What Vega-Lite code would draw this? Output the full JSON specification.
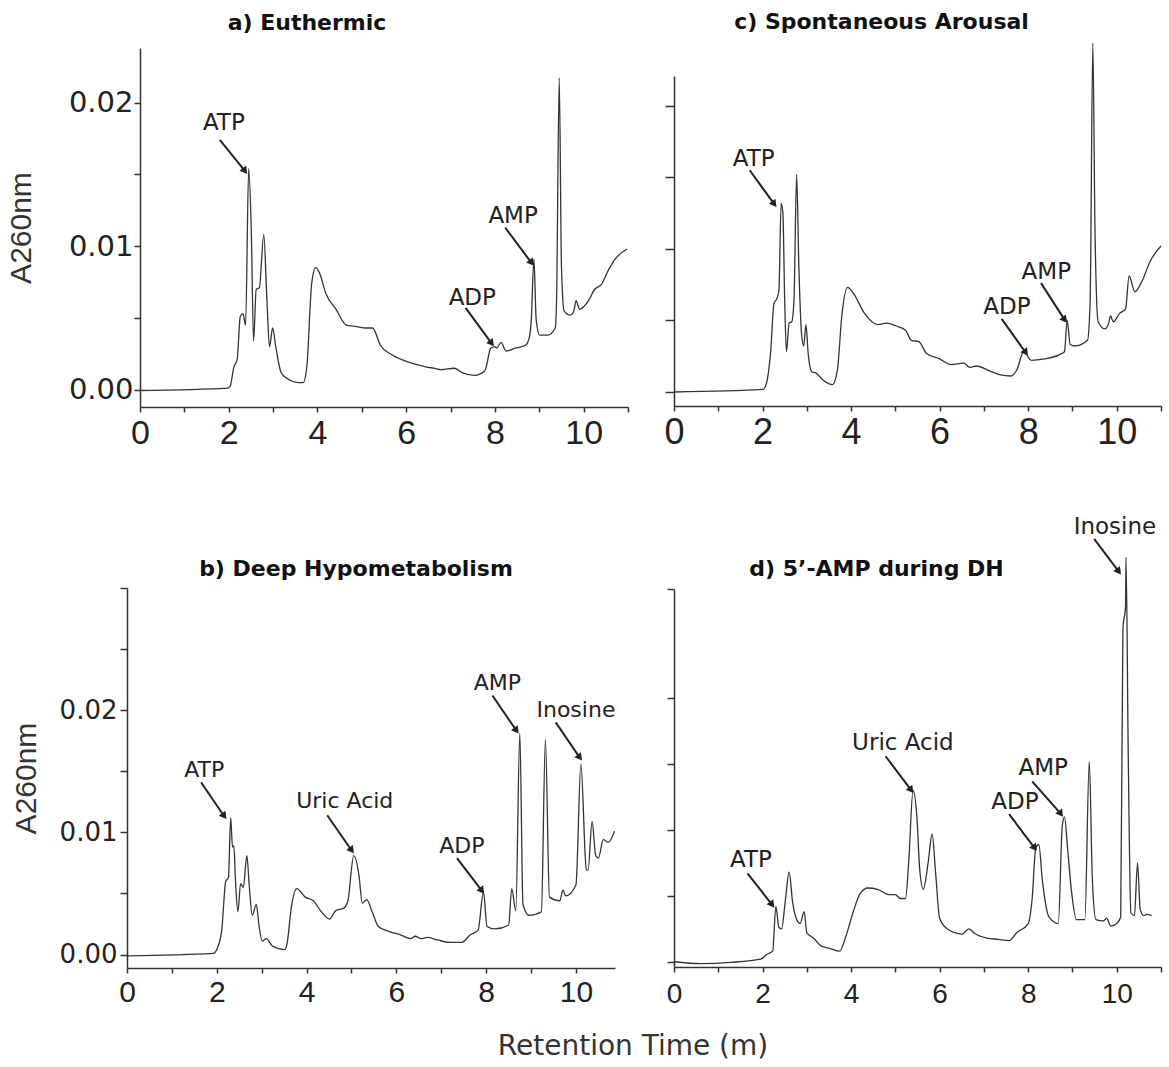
{
"$schema": "https://vega.github.io/schema/vega-lite/v6.json",
"background": "white",
"padding": {"left": 6, "top": 10, "right": 0, "bottom": 0},
"title": {"text": "Retention Time (m)", "orient": "bottom", "anchor": "middle", "dx": 48, "offset": 25, "font": "DejaVu Sans", "fontSize": 28, "fontWeight": "normal", "color": "#333"},
"config": {"view": {"stroke": null}, "line": {"interpolate": "monotone"}, "axis": {"grid": false, "domainColor": "#333", "tickColor": "#333", "labelColor": "#222", "titleColor": "#333", "domainWidth": 1.5, "tickWidth": 1.5, "labelOverlap": false, "labelFlush": false, "labelBound": false}},
"datasets": {
"trace": [
{"panel":"a","time":0,"absorbance":-0.00005},{"panel":"a","time":1.98,"absorbance":0.00012},{"panel":"a","time":2.03,"absorbance":0.00023},{"panel":"a","time":2.12,"absorbance":0.00163},{"panel":"a","time":2.19,"absorbance":0.0021},{"panel":"a","time":2.26,"absorbance":0.0051},{"panel":"a","time":2.32,"absorbance":0.0053},{"panel":"a","time":2.38,"absorbance":0.0045},{"panel":"a","time":2.45,"absorbance":0.0154},{"panel":"a","time":2.51,"absorbance":0.0109},{"panel":"a","time":2.56,"absorbance":0.0034},{"panel":"a","time":2.62,"absorbance":0.007},{"panel":"a","time":2.69,"absorbance":0.0071},{"panel":"a","time":2.79,"absorbance":0.0108},{"panel":"a","time":2.86,"absorbance":0.0063},{"panel":"a","time":2.92,"absorbance":0.003},{"panel":"a","time":2.99,"absorbance":0.0043},{"panel":"a","time":3.06,"absorbance":0.003},{"panel":"a","time":3.18,"absorbance":0.0012},{"panel":"a","time":3.31,"absorbance":0.0008},{"panel":"a","time":3.59,"absorbance":0.0005},{"panel":"a","time":3.68,"absorbance":0.0005},{"panel":"a","time":3.76,"absorbance":0.0016},{"panel":"a","time":3.87,"absorbance":0.0074},{"panel":"a","time":3.96,"absorbance":0.0085},{"panel":"a","time":4.05,"absorbance":0.0081},{"panel":"a","time":4.19,"absorbance":0.0067},{"panel":"a","time":4.42,"absorbance":0.0056},{"panel":"a","time":4.65,"absorbance":0.0045},{"panel":"a","time":4.88,"absorbance":0.0044},{"panel":"a","time":5.06,"absorbance":0.0043},{"panel":"a","time":5.24,"absorbance":0.0043},{"panel":"a","time":5.42,"absorbance":0.0031},{"panel":"a","time":5.7,"absorbance":0.0024},{"panel":"a","time":6.07,"absorbance":0.0019},{"panel":"a","time":6.44,"absorbance":0.0016},{"panel":"a","time":6.62,"absorbance":0.0015},{"panel":"a","time":6.8,"absorbance":0.0014},{"panel":"a","time":7.08,"absorbance":0.0015},{"panel":"a","time":7.26,"absorbance":0.0012},{"panel":"a","time":7.54,"absorbance":0.001},{"panel":"a","time":7.77,"absorbance":0.0013},{"panel":"a","time":7.91,"absorbance":0.0029},{"panel":"a","time":8.0,"absorbance":0.003},{"panel":"a","time":8.04,"absorbance":0.0029},{"panel":"a","time":8.14,"absorbance":0.0033},{"panel":"a","time":8.25,"absorbance":0.0027},{"panel":"a","time":8.46,"absorbance":0.0029},{"panel":"a","time":8.69,"absorbance":0.0031},{"panel":"a","time":8.78,"absorbance":0.0037},{"panel":"a","time":8.82,"absorbance":0.0049},{"panel":"a","time":8.88,"absorbance":0.0091},{"panel":"a","time":8.93,"absorbance":0.0049},{"panel":"a","time":9.01,"absorbance":0.0038},{"panel":"a","time":9.19,"absorbance":0.0038},{"panel":"a","time":9.36,"absorbance":0.0043},{"panel":"a","time":9.39,"absorbance":0.0063},{"panel":"a","time":9.45,"absorbance":0.0217},{"panel":"a","time":9.5,"absorbance":0.0086},{"panel":"a","time":9.56,"absorbance":0.0055},{"panel":"a","time":9.7,"absorbance":0.0052},{"panel":"a","time":9.78,"absorbance":0.0055},{"panel":"a","time":9.83,"absorbance":0.0062},{"panel":"a","time":9.91,"absorbance":0.0056},{"panel":"a","time":10.11,"absorbance":0.0062},{"panel":"a","time":10.25,"absorbance":0.007},{"panel":"a","time":10.39,"absorbance":0.0073},{"panel":"a","time":10.57,"absorbance":0.0084},{"panel":"a","time":10.71,"absorbance":0.0091},{"panel":"a","time":10.98,"absorbance":0.0098},
{"panel":"c","time":0,"absorbance":-0.00002},{"panel":"c","time":2.01,"absorbance":0.00016},{"panel":"c","time":2.09,"absorbance":0.0006},{"panel":"c","time":2.18,"absorbance":0.0027},{"panel":"c","time":2.26,"absorbance":0.0062},{"panel":"c","time":2.32,"absorbance":0.0065},{"panel":"c","time":2.37,"absorbance":0.0071},{"panel":"c","time":2.42,"absorbance":0.0132},{"panel":"c","time":2.46,"absorbance":0.0125},{"panel":"c","time":2.5,"absorbance":0.0064},{"panel":"c","time":2.54,"absorbance":0.0028},{"panel":"c","time":2.6,"absorbance":0.0048},{"panel":"c","time":2.66,"absorbance":0.0049},{"panel":"c","time":2.71,"absorbance":0.0064},{"panel":"c","time":2.77,"absorbance":0.0152},{"panel":"c","time":2.82,"absorbance":0.0088},{"panel":"c","time":2.88,"absorbance":0.0041},{"panel":"c","time":2.93,"absorbance":0.0032},{"panel":"c","time":2.98,"absorbance":0.0047},{"panel":"c","time":3.03,"absorbance":0.0027},{"panel":"c","time":3.11,"absorbance":0.0014},{"panel":"c","time":3.21,"absorbance":0.0013},{"panel":"c","time":3.37,"absorbance":0.0008},{"panel":"c","time":3.58,"absorbance":0.0005},{"panel":"c","time":3.69,"absorbance":0.0015},{"panel":"c","time":3.79,"absorbance":0.0053},{"panel":"c","time":3.92,"absorbance":0.0073},{"panel":"c","time":4.05,"absorbance":0.0069},{"panel":"c","time":4.3,"absorbance":0.0055},{"panel":"c","time":4.6,"absorbance":0.0047},{"panel":"c","time":4.81,"absorbance":0.0048},{"panel":"c","time":5.02,"absorbance":0.0046},{"panel":"c","time":5.23,"absorbance":0.0043},{"panel":"c","time":5.36,"absorbance":0.0036},{"panel":"c","time":5.53,"absorbance":0.0035},{"panel":"c","time":5.7,"absorbance":0.0027},{"panel":"c","time":6.0,"absorbance":0.0023},{"panel":"c","time":6.25,"absorbance":0.0019},{"panel":"c","time":6.55,"absorbance":0.002},{"panel":"c","time":6.68,"absorbance":0.0017},{"panel":"c","time":6.84,"absorbance":0.0018},{"panel":"c","time":7.1,"absorbance":0.0015},{"panel":"c","time":7.35,"absorbance":0.0012},{"panel":"c","time":7.61,"absorbance":0.0011},{"panel":"c","time":7.74,"absorbance":0.0015},{"panel":"c","time":7.9,"absorbance":0.0028},{"panel":"c","time":8.07,"absorbance":0.0022},{"panel":"c","time":8.37,"absorbance":0.0023},{"panel":"c","time":8.71,"absorbance":0.0026},{"panel":"c","time":8.82,"absorbance":0.0028},{"panel":"c","time":8.88,"absorbance":0.005},{"panel":"c","time":8.95,"absorbance":0.0033},{"panel":"c","time":9.05,"absorbance":0.0032},{"panel":"c","time":9.34,"absorbance":0.0036},{"panel":"c","time":9.4,"absorbance":0.0064},{"panel":"c","time":9.46,"absorbance":0.0244},{"panel":"c","time":9.51,"absorbance":0.0111},{"panel":"c","time":9.58,"absorbance":0.0049},{"panel":"c","time":9.73,"absorbance":0.0044},{"panel":"c","time":9.81,"absorbance":0.0047},{"panel":"c","time":9.86,"absorbance":0.0053},{"panel":"c","time":9.92,"absorbance":0.0049},{"panel":"c","time":10.07,"absorbance":0.0055},{"panel":"c","time":10.2,"absorbance":0.0058},{"panel":"c","time":10.28,"absorbance":0.0081},{"panel":"c","time":10.41,"absorbance":0.007},{"panel":"c","time":10.58,"absorbance":0.0078},{"panel":"c","time":10.75,"absorbance":0.0091},{"panel":"c","time":11.0,"absorbance":0.0102},
{"panel":"b","time":0,"absorbance":-0.0001},{"panel":"b","time":1.92,"absorbance":0.0001},{"panel":"b","time":2.01,"absorbance":0.0005},{"panel":"b","time":2.11,"absorbance":0.002},{"panel":"b","time":2.2,"absorbance":0.006},{"panel":"b","time":2.26,"absorbance":0.0063},{"panel":"b","time":2.31,"absorbance":0.0112},{"panel":"b","time":2.35,"absorbance":0.0088},{"panel":"b","time":2.38,"absorbance":0.0089},{"panel":"b","time":2.42,"absorbance":0.0058},{"panel":"b","time":2.47,"absorbance":0.0035},{"panel":"b","time":2.53,"absorbance":0.0058},{"panel":"b","time":2.59,"absorbance":0.0055},{"panel":"b","time":2.67,"absorbance":0.0081},{"panel":"b","time":2.72,"absorbance":0.0058},{"panel":"b","time":2.79,"absorbance":0.0032},{"panel":"b","time":2.88,"absorbance":0.0041},{"panel":"b","time":2.94,"absorbance":0.0024},{"panel":"b","time":3.01,"absorbance":0.0011},{"panel":"b","time":3.1,"absorbance":0.0013},{"panel":"b","time":3.24,"absorbance":0.0007},{"panel":"b","time":3.51,"absorbance":0.0004},{"panel":"b","time":3.56,"absorbance":0.0008},{"panel":"b","time":3.67,"absorbance":0.0041},{"panel":"b","time":3.78,"absorbance":0.0054},{"panel":"b","time":3.97,"absorbance":0.0047},{"panel":"b","time":4.15,"absorbance":0.0044},{"panel":"b","time":4.33,"absorbance":0.0035},{"panel":"b","time":4.51,"absorbance":0.0029},{"panel":"b","time":4.65,"absorbance":0.0036},{"panel":"b","time":4.83,"absorbance":0.0038},{"panel":"b","time":4.92,"absorbance":0.0044},{"panel":"b","time":5.05,"absorbance":0.0081},{"panel":"b","time":5.17,"absorbance":0.0064},{"panel":"b","time":5.24,"absorbance":0.0042},{"panel":"b","time":5.34,"absorbance":0.0045},{"panel":"b","time":5.46,"absorbance":0.0035},{"panel":"b","time":5.6,"absorbance":0.0023},{"panel":"b","time":5.83,"absorbance":0.0019},{"panel":"b","time":6.1,"absorbance":0.0016},{"panel":"b","time":6.32,"absorbance":0.0013},{"panel":"b","time":6.42,"absorbance":0.0015},{"panel":"b","time":6.55,"absorbance":0.0013},{"panel":"b","time":6.69,"absorbance":0.0014},{"panel":"b","time":6.91,"absorbance":0.0012},{"panel":"b","time":7.19,"absorbance":0.001},{"panel":"b","time":7.46,"absorbance":0.001},{"panel":"b","time":7.64,"absorbance":0.0016},{"panel":"b","time":7.82,"absorbance":0.002},{"panel":"b","time":7.94,"absorbance":0.0051},{"panel":"b","time":8.02,"absorbance":0.0023},{"panel":"b","time":8.19,"absorbance":0.0021},{"panel":"b","time":8.5,"absorbance":0.0024},{"panel":"b","time":8.57,"absorbance":0.0054},{"panel":"b","time":8.66,"absorbance":0.0036},{"panel":"b","time":8.75,"absorbance":0.0181},{"panel":"b","time":8.82,"absorbance":0.0041},{"panel":"b","time":8.96,"absorbance":0.0032},{"panel":"b","time":9.23,"absorbance":0.0035},{"panel":"b","time":9.32,"absorbance":0.0176},{"panel":"b","time":9.41,"absorbance":0.0047},{"panel":"b","time":9.64,"absorbance":0.0044},{"panel":"b","time":9.71,"absorbance":0.0053},{"panel":"b","time":9.77,"absorbance":0.0048},{"panel":"b","time":10.0,"absorbance":0.0057},{"panel":"b","time":10.11,"absorbance":0.0156},{"panel":"b","time":10.23,"absorbance":0.007},{"panel":"b","time":10.27,"absorbance":0.0069},{"panel":"b","time":10.36,"absorbance":0.0109},{"panel":"b","time":10.44,"absorbance":0.0081},{"panel":"b","time":10.5,"absorbance":0.0079},{"panel":"b","time":10.61,"absorbance":0.0094},{"panel":"b","time":10.72,"absorbance":0.0092},{"panel":"b","time":10.86,"absorbance":0.0101},
{"panel":"d","time":0,"absorbance":0},{"panel":"d","time":0.6,"absorbance":-0.00014},{"panel":"d","time":1.28,"absorbance":-0.00005},{"panel":"d","time":1.96,"absorbance":0.00019},{"panel":"d","time":2.09,"absorbance":0.00055},{"panel":"d","time":2.23,"absorbance":0.00082},{"panel":"d","time":2.3,"absorbance":0.0042},{"panel":"d","time":2.37,"absorbance":0.0026},{"panel":"d","time":2.43,"absorbance":0.0025},{"panel":"d","time":2.51,"absorbance":0.0045},{"panel":"d","time":2.6,"absorbance":0.0068},{"panel":"d","time":2.68,"absorbance":0.0045},{"panel":"d","time":2.77,"absorbance":0.0032},{"panel":"d","time":2.85,"absorbance":0.0029},{"panel":"d","time":2.94,"absorbance":0.0038},{"panel":"d","time":3.0,"absorbance":0.0022},{"panel":"d","time":3.15,"absorbance":0.0018},{"panel":"d","time":3.32,"absorbance":0.0012},{"panel":"d","time":3.53,"absorbance":0.001},{"panel":"d","time":3.74,"absorbance":0.0008},{"panel":"d","time":3.87,"absorbance":0.0018},{"panel":"d","time":4.04,"absorbance":0.0037},{"panel":"d","time":4.21,"absorbance":0.0052},{"panel":"d","time":4.38,"absorbance":0.0056},{"panel":"d","time":4.6,"absorbance":0.0055},{"panel":"d","time":4.85,"absorbance":0.0051},{"panel":"d","time":5.0,"absorbance":0.0051},{"panel":"d","time":5.11,"absorbance":0.0048},{"panel":"d","time":5.23,"absorbance":0.0048},{"panel":"d","time":5.3,"absorbance":0.0075},{"panel":"d","time":5.4,"absorbance":0.013},{"panel":"d","time":5.49,"absorbance":0.0108},{"panel":"d","time":5.55,"absorbance":0.007},{"panel":"d","time":5.63,"absorbance":0.0055},{"panel":"d","time":5.74,"absorbance":0.0075},{"panel":"d","time":5.83,"absorbance":0.0097},{"panel":"d","time":5.91,"absorbance":0.0067},{"panel":"d","time":6.0,"absorbance":0.0033},{"panel":"d","time":6.17,"absorbance":0.0025},{"panel":"d","time":6.51,"absorbance":0.0021},{"panel":"d","time":6.66,"absorbance":0.0025},{"panel":"d","time":6.81,"absorbance":0.0021},{"panel":"d","time":7.06,"absorbance":0.0018},{"panel":"d","time":7.32,"absorbance":0.0017},{"panel":"d","time":7.57,"absorbance":0.0016},{"panel":"d","time":7.74,"absorbance":0.0022},{"panel":"d","time":8.0,"absorbance":0.0029},{"panel":"d","time":8.09,"absorbance":0.0048},{"panel":"d","time":8.17,"absorbance":0.0086},{"panel":"d","time":8.24,"absorbance":0.0089},{"panel":"d","time":8.32,"absorbance":0.0062},{"panel":"d","time":8.47,"absorbance":0.0034},{"panel":"d","time":8.68,"absorbance":0.0029},{"panel":"d","time":8.77,"absorbance":0.0103},{"panel":"d","time":8.82,"absorbance":0.011},{"panel":"d","time":8.89,"absorbance":0.0086},{"panel":"d","time":8.98,"absorbance":0.0053},{"panel":"d","time":9.09,"absorbance":0.0032},{"panel":"d","time":9.28,"absorbance":0.0032},{"panel":"d","time":9.38,"absorbance":0.0152},{"panel":"d","time":9.45,"absorbance":0.0062},{"panel":"d","time":9.53,"absorbance":0.0032},{"panel":"d","time":9.7,"absorbance":0.0031},{"panel":"d","time":9.77,"absorbance":0.0033},{"panel":"d","time":9.87,"absorbance":0.0027},{"panel":"d","time":10.0,"absorbance":0.0029},{"panel":"d","time":10.09,"absorbance":0.0034},{"panel":"d","time":10.14,"absorbance":0.0253},{"panel":"d","time":10.2,"absorbance":0.027},{"panel":"d","time":10.21,"absorbance":0.0307},{"panel":"d","time":10.26,"absorbance":0.0158},{"panel":"d","time":10.32,"absorbance":0.0037},{"panel":"d","time":10.4,"absorbance":0.0035},{"panel":"d","time":10.47,"absorbance":0.0075},{"panel":"d","time":10.53,"absorbance":0.004},{"panel":"d","time":10.61,"absorbance":0.0035},{"panel":"d","time":10.68,"absorbance":0.0036},{"panel":"d","time":10.79,"absorbance":0.0035}
],
"notes": [
{"panel":"a","label":"ATP","lx":1.89,"ly":0.0186,"x1":1.8,"y1":0.0174,"x2":2.35,"y2":0.0153},
{"panel":"a","label":"ADP","lx":7.49,"ly":0.0064,"x1":7.34,"y1":0.0057,"x2":7.91,"y2":0.0033},
{"panel":"a","label":"AMP","lx":8.41,"ly":0.0121,"x1":8.23,"y1":0.0113,"x2":8.81,"y2":0.0089},
{"panel":"c","label":"ATP","lx":1.8,"ly":0.0163,"x1":1.71,"y1":0.0155,"x2":2.25,"y2":0.0132},
{"panel":"c","label":"ADP","lx":7.52,"ly":0.00595,"x1":7.4,"y1":0.0051,"x2":7.93,"y2":0.0028},
{"panel":"c","label":"AMP","lx":8.41,"ly":0.0084,"x1":8.29,"y1":0.0076,"x2":8.81,"y2":0.0051},
{"panel":"b","label":"ATP","lx":1.72,"ly":0.0151,"x1":1.65,"y1":0.0141,"x2":2.15,"y2":0.0114},
{"panel":"b","label":"Uric Acid","lx":4.85,"ly":0.0126,"x1":4.46,"y1":0.0114,"x2":4.99,"y2":0.0086},
{"panel":"b","label":"ADP","lx":7.46,"ly":0.0089,"x1":7.35,"y1":0.0079,"x2":7.89,"y2":0.0053},
{"panel":"b","label":"AMP","lx":8.25,"ly":0.0222,"x1":8.14,"y1":0.0212,"x2":8.66,"y2":0.0184},
{"panel":"b","label":"Inosine","lx":10.0,"ly":0.02,"x1":9.55,"y1":0.019,"x2":10.07,"y2":0.0162},
{"panel":"d","label":"ATP","lx":1.74,"ly":0.0077,"x1":1.66,"y1":0.0067,"x2":2.2,"y2":0.0044},
{"panel":"d","label":"Uric Acid","lx":5.17,"ly":0.0166,"x1":4.78,"y1":0.0156,"x2":5.34,"y2":0.0131},
{"panel":"d","label":"ADP","lx":7.7,"ly":0.0121,"x1":7.57,"y1":0.0112,"x2":8.13,"y2":0.0087},
{"panel":"d","label":"AMP","lx":8.34,"ly":0.0147,"x1":8.09,"y1":0.0137,"x2":8.72,"y2":0.0113},
{"panel":"d","label":"Inosine","lx":9.96,"ly":0.033,"x1":9.49,"y1":0.0321,"x2":10.03,"y2":0.0297}
]
},
"hconcat": [
{"vconcat": [
{"width": 488, "height": 359,
 "title": {"text": "a) Euthermic", "frame": "group", "anchor": "middle", "dx": -77, "offset": 13, "font": "DejaVu Sans", "fontSize": 22, "fontWeight": "bold", "color": "#111"},
 "layer": [
  {"data": {"name": "trace"}, "transform": [{"filter": "datum.panel === 'a'"}], "mark": {"type": "line", "color": "#333", "strokeWidth": 1.3},
   "encoding": {
    "x": {"field": "time", "type": "quantitative", "title": null, "scale": {"domain": [0, 11], "nice": false, "zero": false}, "axis": {"values": [0,1,2,3,4,5,6,7,8,9,10,11], "labelExpr": "datum.value % 2 === 0 && datum.value <= 10 ? datum.label : ''", "tickSize": 5, "labelPadding": 4, "labelFont": "Liberation Sans", "labelFontSize": 34}},
    "y": {"field": "absorbance", "type": "quantitative", "title": "A260nm", "scale": {"domain": [-0.0012, 0.0238], "nice": false, "zero": false}, "axis": {"titleFont": "Liberation Sans", "titleFontSize": 30, "titleFontWeight": "normal", "titlePadding": 32, "values": [0,0.0025,0.005,0.0075,0.01,0.0125,0.015,0.0175,0.02,0.0225], "labelExpr": "abs(datum.value*100 - round(datum.value*100)) < 0.001 ? format(datum.value, '.2f') : ''", "tickSize": 6, "labelPadding": 1, "labelFont": "DejaVu Sans", "labelFontSize": 29}}
   }},
  {"data": {"name": "notes"}, "transform": [{"filter": "datum.panel === 'a'"}], "mark": {"type": "rule", "color": "#222", "strokeWidth": 2},
   "encoding": {"x": {"field": "x1", "type": "quantitative", "title": null}, "y": {"field": "y1", "type": "quantitative", "title": "A260nm"}, "x2": {"field": "x2"}, "y2": {"field": "y2"}}},
  {"data": {"name": "notes"}, "transform": [{"filter": "datum.panel === 'a'"}], "mark": {"type": "point", "shape": "triangle", "filled": true, "color": "#222", "opacity": 1, "size": 70, "angle": 143},
   "encoding": {"x": {"field": "x2", "type": "quantitative", "title": null}, "y": {"field": "y2", "type": "quantitative", "title": "A260nm"}}},
  {"data": {"name": "notes"}, "transform": [{"filter": "datum.panel === 'a'"}], "mark": {"type": "text", "font": "DejaVu Sans", "fontSize": 23, "color": "#222", "align": "center", "baseline": "middle"},
   "encoding": {"x": {"field": "lx", "type": "quantitative", "title": null}, "y": {"field": "ly", "type": "quantitative", "title": "A260nm"}, "text": {"field": "label"}}}
 ]},
{"width": 488, "height": 380,
 "title": {"text": "b) Deep Hypometabolism", "frame": "group", "anchor": "middle", "dx": -28, "offset": -6, "font": "DejaVu Sans", "fontSize": 22, "fontWeight": "bold", "color": "#111"},
 "layer": [
  {"data": {"name": "trace"}, "transform": [{"filter": "datum.panel === 'b'"}], "mark": {"type": "line", "color": "#333", "strokeWidth": 1.3},
   "encoding": {
    "x": {"field": "time", "type": "quantitative", "title": null, "scale": {"domain": [0, 10.87], "range": [-13, 475], "nice": false, "zero": false}, "axis": {"values": [0,1,2,3,4,5,6,7,8,9,10], "labelExpr": "datum.value % 2 === 0 ? datum.label : ''", "tickSize": 5, "labelPadding": 4, "labelFont": "Liberation Sans", "labelFontSize": 30}},
    "y": {"field": "absorbance", "type": "quantitative", "title": "A260nm", "scale": {"domain": [-0.0011, 0.03], "nice": false, "zero": false}, "axis": {"offset": 13, "titleFont": "Liberation Sans", "titleFontSize": 30, "titleFontWeight": "normal", "titlePadding": 18, "values": [0,0.005,0.01,0.015,0.02,0.025,0.03], "labelExpr": "datum.value < 0.025 && abs(datum.value*100 - round(datum.value*100)) < 0.001 ? format(datum.value, '.2f') : ''", "tickSize": 7, "labelPadding": 3, "labelFont": "DejaVu Sans", "labelFontSize": 26}}
   }},
  {"data": {"name": "notes"}, "transform": [{"filter": "datum.panel === 'b'"}], "mark": {"type": "rule", "color": "#222", "strokeWidth": 2},
   "encoding": {"x": {"field": "x1", "type": "quantitative", "title": null}, "y": {"field": "y1", "type": "quantitative", "title": "A260nm"}, "x2": {"field": "x2"}, "y2": {"field": "y2"}}},
  {"data": {"name": "notes"}, "transform": [{"filter": "datum.panel === 'b'"}], "mark": {"type": "point", "shape": "triangle", "filled": true, "color": "#222", "opacity": 1, "size": 70, "angle": 143},
   "encoding": {"x": {"field": "x2", "type": "quantitative", "title": null}, "y": {"field": "y2", "type": "quantitative", "title": "A260nm"}}},
  {"data": {"name": "notes"}, "transform": [{"filter": "datum.panel === 'b'"}], "mark": {"type": "text", "font": "DejaVu Sans", "fontSize": 22, "color": "#222", "align": "center", "baseline": "middle"},
   "encoding": {"x": {"field": "lx", "type": "quantitative", "title": null}, "y": {"field": "ly", "type": "quantitative", "title": "A260nm"}, "text": {"field": "label"}}}
 ]}
], "spacing": 108},
{"vconcat": [
{"width": 487, "height": 358,
 "title": {"text": "c) Spontaneous Arousal", "frame": "group", "anchor": "middle", "dx": -36, "offset": 7, "font": "DejaVu Sans", "fontSize": 22, "fontWeight": "bold", "color": "#111"},
 "layer": [
  {"data": {"name": "trace"}, "transform": [{"filter": "datum.panel === 'c'"}], "mark": {"type": "line", "color": "#333", "strokeWidth": 1.3},
   "encoding": {
    "x": {"field": "time", "type": "quantitative", "title": null, "scale": {"domain": [0, 11], "nice": false, "zero": false}, "axis": {"values": [0,1,2,3,4,5,6,7,8,9,10,11], "labelExpr": "datum.value % 2 === 0 && datum.value <= 10 ? datum.label : ''", "tickSize": 5, "labelPadding": 4, "labelFont": "Liberation Sans", "labelFontSize": 36}},
    "y": {"field": "absorbance", "type": "quantitative", "title": null, "scale": {"domain": [-0.001, 0.0221], "range": [358, 28], "nice": false, "zero": false}, "axis": {"values": [0,0.005,0.01,0.015,0.02], "labels": false, "tickSize": 9}}
   }},
  {"data": {"name": "notes"}, "transform": [{"filter": "datum.panel === 'c'"}], "mark": {"type": "rule", "color": "#222", "strokeWidth": 2},
   "encoding": {"x": {"field": "x1", "type": "quantitative", "title": null}, "y": {"field": "y1", "type": "quantitative", "title": null}, "x2": {"field": "x2"}, "y2": {"field": "y2"}}},
  {"data": {"name": "notes"}, "transform": [{"filter": "datum.panel === 'c'"}], "mark": {"type": "point", "shape": "triangle", "filled": true, "color": "#222", "opacity": 1, "size": 70, "angle": 143},
   "encoding": {"x": {"field": "x2", "type": "quantitative", "title": null}, "y": {"field": "y2", "type": "quantitative", "title": null}}},
  {"data": {"name": "notes"}, "transform": [{"filter": "datum.panel === 'c'"}], "mark": {"type": "text", "font": "DejaVu Sans", "fontSize": 23, "color": "#222", "align": "center", "baseline": "middle"},
   "encoding": {"x": {"field": "lx", "type": "quantitative", "title": null}, "y": {"field": "ly", "type": "quantitative", "title": null}, "text": {"field": "label"}}}
 ]},
{"width": 487, "height": 378,
 "title": {"text": "d) 5’-AMP during DH", "frame": "group", "anchor": "middle", "dx": -41, "offset": -65, "font": "DejaVu Sans", "fontSize": 22, "fontWeight": "bold", "color": "#111"},
 "layer": [
  {"data": {"name": "trace"}, "transform": [{"filter": "datum.panel === 'd'"}], "mark": {"type": "line", "color": "#333", "strokeWidth": 1.3},
   "encoding": {
    "x": {"field": "time", "type": "quantitative", "title": null, "scale": {"domain": [0, 11], "nice": false, "zero": false}, "axis": {"values": [0,1,2,3,4,5,6,7,8,9,10,11], "labelExpr": "datum.value % 2 === 0 && datum.value <= 10 ? datum.label : ''", "tickSize": 5, "labelPadding": 8, "labelFont": "Liberation Sans", "labelFontSize": 28}},
    "y": {"field": "absorbance", "type": "quantitative", "title": null, "scale": {"domain": [-0.0004, 0.0283], "nice": false, "zero": false}, "axis": {"values": [0,0.005,0.01,0.015,0.02,0.0283], "labels": false, "tickSize": 7}}
   }},
  {"data": {"name": "notes"}, "transform": [{"filter": "datum.panel === 'd'"}], "mark": {"type": "rule", "color": "#222", "strokeWidth": 2},
   "encoding": {"x": {"field": "x1", "type": "quantitative", "title": null}, "y": {"field": "y1", "type": "quantitative", "title": null}, "x2": {"field": "x2"}, "y2": {"field": "y2"}}},
  {"data": {"name": "notes"}, "transform": [{"filter": "datum.panel === 'd'"}], "mark": {"type": "point", "shape": "triangle", "filled": true, "color": "#222", "opacity": 1, "size": 70, "angle": 143},
   "encoding": {"x": {"field": "x2", "type": "quantitative", "title": null}, "y": {"field": "y2", "type": "quantitative", "title": null}}},
  {"data": {"name": "notes"}, "transform": [{"filter": "datum.panel === 'd'"}], "mark": {"type": "text", "font": "DejaVu Sans", "fontSize": 23, "color": "#222", "align": "center", "baseline": "middle"},
   "encoding": {"x": {"field": "lx", "type": "quantitative", "title": null}, "y": {"field": "ly", "type": "quantitative", "title": null}, "text": {"field": "label"}}}
 ]}
], "spacing": 66}
], "spacing": 33
}
